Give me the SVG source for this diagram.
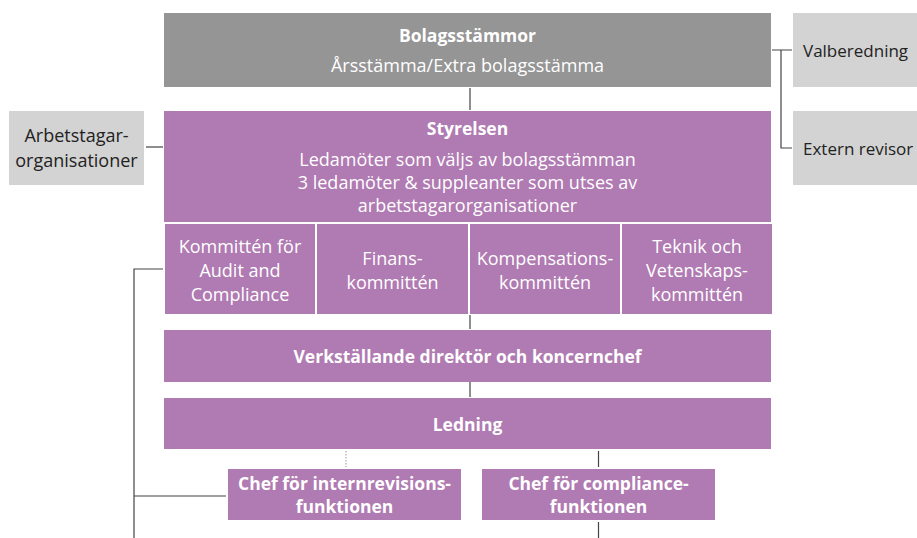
<svg xmlns="http://www.w3.org/2000/svg" width="917" height="538" viewBox="0 0 917 538">
<style>
.p{fill:#b07ab2}
.g{fill:#959595}
.l{fill:#d3d3d3}
text{font-family:"Open Sans","Liberation Sans",sans-serif;font-size:18px;text-anchor:middle}
.w{fill:#ffffff}
.d{fill:#222222}
.s{font-size:17px;text-anchor:start}
.b{font-weight:bold;font-size:17.5px}
.c{stroke:#444444;stroke-width:1.2;fill:none}
.dot{stroke:#999999;stroke-width:1;stroke-dasharray:1.5 1.5;fill:none}
</style>
<rect width="917" height="538" fill="#ffffff"/>
<g id="connectors">
<line class="c" x1="470" y1="88" x2="470" y2="110"/>
<line class="c" x1="146" y1="147" x2="163" y2="147"/>
<path class="c" d="M772 50 H792 M781 50 V148 H792"/>
<line class="c" x1="470" y1="315" x2="470" y2="329"/>
<line class="c" x1="470" y1="382" x2="470" y2="397"/>
<line class="dot" x1="346" y1="451" x2="346" y2="467"/>
<line class="c" x1="598.5" y1="451" x2="598.5" y2="467"/>
<line class="c" x1="598.5" y1="522" x2="598.5" y2="538"/>
<path class="c" d="M163 269 H134 V538 M134 496 H226"/>
</g>
<g id="bolagsstammor">
<rect class="g" x="164" y="13" width="607" height="74"/>
<text class="w b" x="467.5" y="42">Bolagsstämmor</text>
<text class="w" x="467.5" y="72">Årsstämma/Extra bolagsstämma</text>
</g>
<g id="valberedning">
<rect class="l" x="793" y="13" width="130" height="74"/>
<text class="d s" x="803" y="57">Valberedning</text>
</g>
<g id="extern-revisor">
<rect class="l" x="793" y="111" width="130" height="74"/>
<text class="d s" x="803" y="155">Extern revisor</text>
</g>
<g id="arbetstagar">
<rect class="l" x="9" y="111" width="135" height="74"/>
<text class="d" x="76.5" y="142">Arbetstagar-</text>
<text class="d" x="76.5" y="167">organisationer</text>
</g>
<g id="styrelsen">
<rect class="p" x="164" y="111" width="607" height="111"/>
<text class="w b" x="467.5" y="135">Styrelsen</text>
<text class="w" x="467.5" y="166">Ledamöter som väljs av bolagsstämman</text>
<text class="w" x="467.5" y="189">3 ledamöter &amp; suppleanter som utses av</text>
<text class="w" x="467.5" y="212">arbetstagarorganisationer</text>
</g>
<g id="audit">
<rect class="p" x="165" y="224" width="150" height="90"/>
<text class="w" x="240" y="253">Kommittén för</text>
<text class="w" x="240" y="277">Audit and</text>
<text class="w" x="240" y="301">Compliance</text>
</g>
<g id="finans">
<rect class="p" x="317" y="224" width="151" height="90"/>
<text class="w" x="392.5" y="265">Finans-</text>
<text class="w" x="392.5" y="289">kommittén</text>
</g>
<g id="kompensation">
<rect class="p" x="470" y="224" width="150" height="90"/>
<text class="w" x="545" y="265">Kompensations-</text>
<text class="w" x="545" y="289">kommittén</text>
</g>
<g id="teknik">
<rect class="p" x="622" y="224" width="150" height="90"/>
<text class="w" x="697" y="253">Teknik  och</text>
<text class="w" x="697" y="277">Vetenskaps-</text>
<text class="w" x="697" y="301">kommittén</text>
</g>
<g id="vd">
<rect class="p" x="164" y="330" width="607" height="52"/>
<text class="w b" x="467.5" y="363">Verkställande direktör och koncernchef</text>
</g>
<g id="ledning">
<rect class="p" x="164" y="398" width="607" height="51"/>
<text class="w b" x="467.5" y="431">Ledning</text>
</g>
<g id="internrevision">
<rect class="p" x="228" y="469" width="233" height="51"/>
<text class="w b" x="344.5" y="490">Chef för internrevisions-</text>
<text class="w b" x="344.5" y="513">funktionen</text>
</g>
<g id="compliance">
<rect class="p" x="482" y="469" width="233" height="51"/>
<text class="w b" x="598.5" y="490">Chef för compliance-</text>
<text class="w b" x="598.5" y="513">funktionen</text>
</g>
</svg>
